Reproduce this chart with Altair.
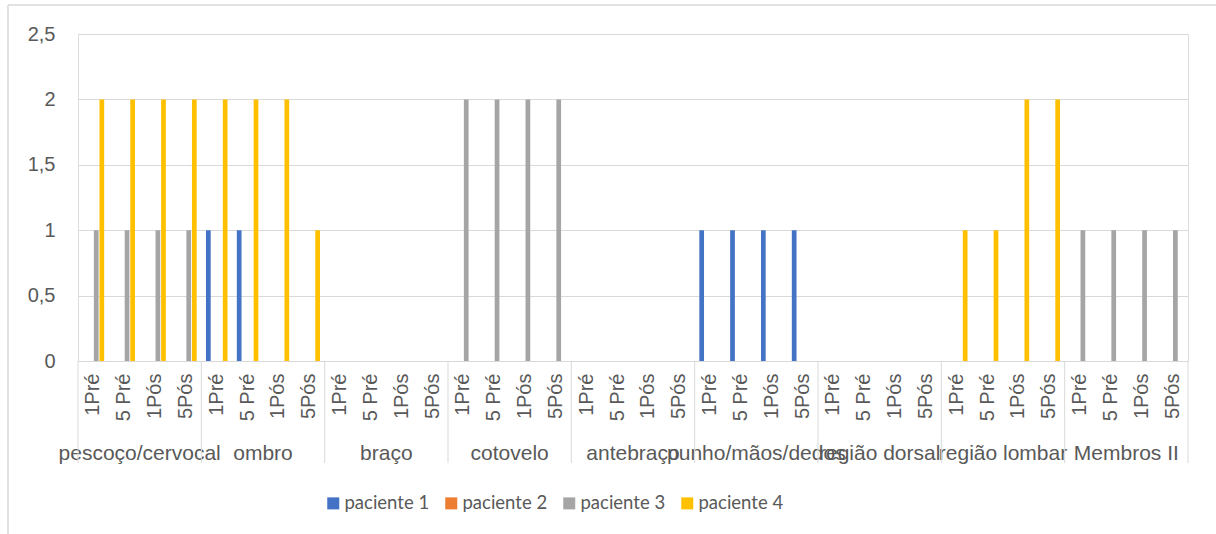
import altair as alt
import pandas as pd

groups = ["pescoço/cervocal", "ombro", "braço", "cotovelo", "antebraço",
          "punho/mãos/dedos", "região dorsal", "região lombar", "Membros II"]
subs = ["1Pré", "5 Pré", "1Pós", "5Pós"]
series = ["paciente 1", "paciente 2", "paciente 3", "paciente 4"]
colors = ["#4472C4", "#ED7D31", "#A5A5A5", "#FFC000"]

p1 = [0, 0, 0, 0, 1, 1, 0, 0, 0, 0, 0, 0, 0, 0, 0, 0, 0, 0, 0, 0,
      1, 1, 1, 1, 0, 0, 0, 0, 0, 0, 0, 0, 0, 0, 0, 0]
p2 = [0, 0, 0, 0, 0, 0, 0, 0, 0, 0, 0, 0, 0, 0, 0, 0, 0, 0, 0, 0,
      0, 0, 0, 0, 0, 0, 0, 0, 0, 0, 0, 0, 0, 0, 0, 0]
p3 = [1, 1, 1, 1, 0, 0, 0, 0, 0, 0, 0, 0, 2, 2, 2, 2, 0, 0, 0, 0,
      0, 0, 0, 0, 0, 0, 0, 0, 0, 0, 0, 0, 1, 1, 1, 1]
p4 = [2, 2, 2, 2, 2, 2, 2, 1, 0, 0, 0, 0, 0, 0, 0, 0, 0, 0, 0, 0,
      0, 0, 0, 0, 0, 0, 0, 0, 1, 1, 2, 2, 0, 0, 0, 0]

keys = [g + "|" + s for g in groups for s in subs]
rows = []
for name, vals in zip(series, [p1, p2, p3, p4]):
    for k, v in zip(keys, vals):
        rows.append({"key": k, "group": k.split("|")[0], "serie": name, "value": v})
df = pd.DataFrame(rows)
gdf = pd.DataFrame({"group": groups})
one = pd.DataFrame({"a": [0]})

FONT = "Liberation Sans"
TXT = "#595959"
GRID = "#D9D9D9"

bars = alt.Chart(df).mark_bar().encode(
    x=alt.X("key:N", sort=keys, title=None,
            scale=alt.Scale(paddingInner=0, paddingOuter=0),
            axis=alt.Axis(labelAngle=-90, labelExpr="split(datum.label, '|')[1]",
                          labelFont=FONT, labelFontSize=20, labelColor=TXT,
                          labelPadding=12, ticks=False, domainColor=GRID,
                          domainWidth=1, labelOverlap=False, labelBound=False,
                          grid=False)),
    xOffset=alt.XOffset("serie:N", sort=series,
                        scale=alt.Scale(paddingInner=0.16, paddingOuter=0.83)),
    y=alt.Y("value:Q", title=None,
            scale=alt.Scale(domain=[0, 2.5], nice=False),
            axis=alt.Axis(values=[0, 0.5, 1, 1.5, 2, 2.5],
                          labelExpr="replace(format(datum.value, '~g'), '.', ',')",
                          labelFont=FONT, labelFontSize=20, labelColor=TXT,
                          labelPadding=23, ticks=False, domain=False,
                          gridColor=GRID, gridWidth=1)),
    color=alt.Color("serie:N", sort=series,
                    scale=alt.Scale(domain=series, range=colors),
                    legend=alt.Legend(title=None, orient="none", direction="horizontal",
                                      legendX=246, legendY=460, symbolType="square",
                                      symbolSize=144, symbolStrokeWidth=0,
                                      labelFont="Lato", labelFontSize=18.5,
                                      labelColor=TXT, labelOffset=2,
                                      columnPadding=12, padding=0)),
)

glabels = alt.Chart(gdf).mark_text(font=FONT, fontSize=21, color=TXT,
                                   baseline="alphabetic", align="center").encode(
    x=alt.X("group:N", sort=groups, bandPosition=0.5, axis=None,
            scale=alt.Scale(type="band", paddingInner=0, paddingOuter=0)),
    y=alt.value(426),
    text="group:N",
)

seps = alt.Chart(gdf).mark_rule(color=GRID, strokeWidth=1).encode(
    x=alt.X("group:N", sort=groups, bandPosition=0, axis=None,
            scale=alt.Scale(type="band", paddingInner=0, paddingOuter=0)),
    y=alt.value(327),
    y2=alt.value(429),
)

sep_end = alt.Chart(one).mark_rule(color=GRID, strokeWidth=1).encode(
    x=alt.value(1110), y=alt.value(327), y2=alt.value(429))

border_top = alt.Chart(one).mark_rule(color=GRID, strokeWidth=1.5).encode(
    x=alt.value(-70), x2=alt.value(1138), y=alt.value(-29))
border_left = alt.Chart(one).mark_rule(color=GRID, strokeWidth=1.5).encode(
    x=alt.value(-70), y=alt.value(-29), y2=alt.value(500))

chart = alt.layer(bars, glabels, seps, sep_end, border_top, border_left).resolve_scale(
    x="independent"
).properties(
    width=1110, height=327,
    padding={"left": 78, "top": 34, "right": 28, "bottom": 173},
    autosize="none",
).configure_view(stroke=None).configure(background="white")

chart.save("out.html", embed_options={"renderer": "svg", "actions": False})
